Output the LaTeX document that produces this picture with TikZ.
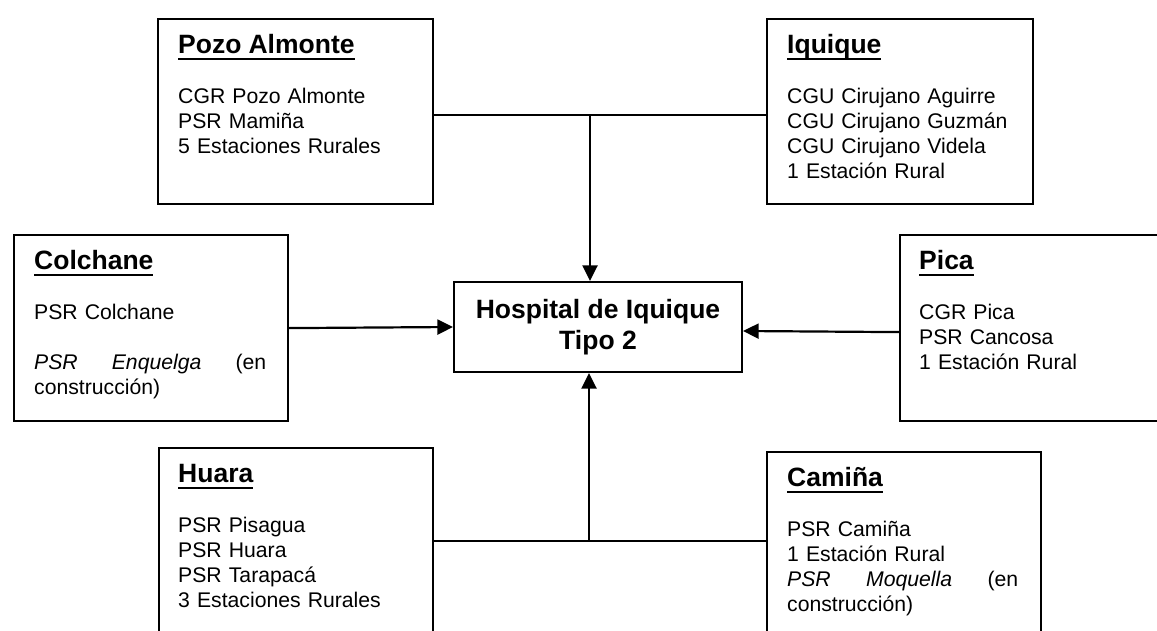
\documentclass[tikz,border=0pt]{standalone}
\usepackage{fontspec}
\setmainfont{Liberation Sans}
\usetikzlibrary{arrows.meta}

\newcommand{\titulo}[1]{{\fontsize{26.5}{31}\selectfont\bfseries
  \setbox0\hbox{\rule{0pt}{20pt}#1}\rlap{\rule[-7pt]{\wd0}{2pt}}\box0}}

\tikzset{
  caja/.style={draw, line width=2.2pt, anchor=north west, inner sep=0pt},
  texto/.style={anchor=north west, inner sep=0pt, align=left,
    font=\fontsize{21.2}{25}\selectfont},
  flecha/.style={line width=2.2pt, -{Triangle[length=15.5pt,width=15pt]}},
}

\begin{document}
\begin{tikzpicture}[x=1pt,y=-1pt]
\useasboundingbox (0,0) rectangle (1157,631);
\node[caja, minimum width=275pt, minimum height=185pt] (pozo) at (157,18) {};
\node[caja, minimum width=266pt, minimum height=185pt] (iquique) at (766,18) {};
\node[caja, minimum width=274pt, minimum height=186pt] (colchane) at (13,234) {};
\node[caja, minimum width=280pt, minimum height=186pt] (pica) at (899,234) {};
\node[caja, minimum width=274pt, minimum height=200pt] (huara) at (158,447) {};
\node[caja, minimum width=274pt, minimum height=200pt] (camina) at (766,451) {};
\node[draw, line width=2.2pt, minimum width=288pt, minimum height=90pt, align=center,
  font=\fontsize{26.5}{31}\selectfont\bfseries] (hosp) at (598,327)
  {Hospital de Iquique\\ Tipo 2};

\node[texto, text width=233pt] (pozotxt) at ([shift={(21,15)}]pozo.north west)
  {\titulo{Pozo Almonte}\\[25pt] CGR Pozo Almonte\\ PSR Mamiña\\ 5 Estaciones Rurales};
\node[texto, text width=224pt] (iquiquetxt) at ([shift={(21,15)}]iquique.north west)
  {\titulo{Iquique}\\[25pt] CGU Cirujano Aguirre\\ CGU Cirujano Guzmán\\
   CGU Cirujano Videla\\ 1 Estación Rural};
\node[texto, text width=232pt] (colchanetxt) at ([shift={(21,15)}]colchane.north west)
  {\titulo{Colchane}\\[25pt] PSR Colchane\\[25pt]
   \textit{PSR}\hfill\textit{Enquelga}\hfill(en\\ construcción)};
\node[texto, text width=230pt] (picatxt) at ([shift={(20,15)}]pica.north west)
  {\titulo{Pica}\\[25pt] CGR Pica\\ PSR Cancosa\\ 1 Estación Rural};
\node[texto, text width=232pt] (huaratxt) at ([shift={(20,15)}]huara.north west)
  {\titulo{Huara}\\[25pt] PSR Pisagua\\ PSR Huara\\ PSR Tarapacá\\ 3 Estaciones Rurales};
\node[texto, text width=231pt] (caminatxt) at ([shift={(21,15)}]camina.north west)
  {\titulo{Camiña}\\[25pt] PSR Camiña\\ 1 Estación Rural\\
   \textit{PSR}\hfill\textit{Moquella}\hfill(en\\ construcción)};

\coordinate (sup) at (590,115);
\coordinate (inf) at (589,541);
\draw[line width=2.2pt] (pozo.east |- sup) -- (iquique.west |- sup);
\draw[flecha] (sup) -- (hosp.north -| sup);
\draw[flecha] (colchane.east) -- (hosp.west);
\draw[flecha] ([yshift=-4pt]pica.west) -- ([yshift=-4pt]hosp.east);
\draw[line width=2.2pt] (huara.east |- inf) -- (camina.west |- inf);
\draw[flecha] (inf) -- (hosp.south -| inf);
\end{tikzpicture}
\end{document}
